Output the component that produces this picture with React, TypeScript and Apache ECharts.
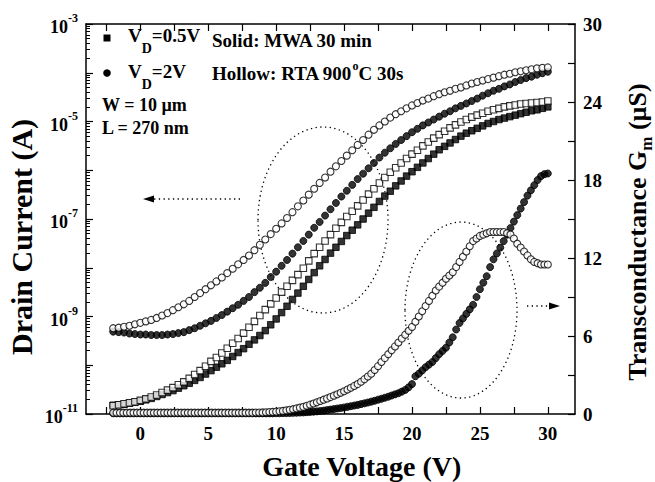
import React, { useEffect, useRef } from 'react';
import * as echarts from 'echarts';

const FONT = "'Liberation Serif', 'Times New Roman', serif";

// Gate-voltage sweep of the drain-current curves (V)
const gateVoltageId = [
  -2, -1.6, -1.2, -0.8, -0.4, 0, 0.4, 0.8, 1.2, 1.6, 2, 2.4, 2.8, 3.2, 3.6, 4, 4.4, 4.8, 5.2, 5.6,
  6, 6.4, 6.8, 7.2, 7.6, 8, 8.4, 8.8, 9.2, 9.6, 10, 10.4, 10.8, 11.2, 11.6, 12, 12.4, 12.8, 13.2, 13.6,
  14, 14.4, 14.8, 15.2, 15.6, 16, 16.4, 16.8, 17.2, 17.6, 18, 18.4, 18.8, 19.2, 19.6, 20, 20.4, 20.8, 21.2, 21.6,
  22, 22.4, 22.8, 23.2, 23.6, 24, 24.4, 24.8, 25.2, 25.6, 26, 26.4, 26.8, 27.2, 27.6, 28, 28.4, 28.8, 29.2, 29.6, 30,
];

// log10 of drain current (A)
// Solid squares: MWA 30 min, VD = 0.5 V
const log10IdMwa05 = [
  -10.82, -10.81, -10.8, -10.78, -10.76, -10.74, -10.71, -10.68, -10.64, -10.6,
  -10.56, -10.52, -10.47, -10.42, -10.37, -10.31, -10.25, -10.18, -10.11, -10.04,
  -9.97, -9.9, -9.82, -9.74, -9.66, -9.57, -9.48, -9.39, -9.29, -9.17,
  -9.05, -8.92, -8.79, -8.65, -8.52, -8.38, -8.24, -8.1, -7.96, -7.83,
  -7.7, -7.58, -7.46, -7.34, -7.23, -7.12, -7.0, -6.88, -6.76, -6.64,
  -6.53, -6.43, -6.32, -6.22, -6.12, -6.03, -5.94, -5.85, -5.76, -5.67,
  -5.58, -5.51, -5.44, -5.37, -5.3, -5.24, -5.19, -5.14, -5.09, -5.04,
  -5.0, -4.96, -4.93, -4.9, -4.87, -4.84, -4.81, -4.78, -4.76, -4.73, -4.7,
];
// Hollow squares: RTA 900C 30 s, VD = 0.5 V
const log10IdRta05 = [
  -10.83, -10.81, -10.79, -10.77, -10.75, -10.72, -10.69, -10.65, -10.61, -10.56,
  -10.51, -10.46, -10.4, -10.34, -10.27, -10.19, -10.11, -10.02, -9.92, -9.84,
  -9.75, -9.65, -9.55, -9.45, -9.34, -9.22, -9.1, -8.98, -8.86, -8.74,
  -8.62, -8.5, -8.38, -8.26, -8.14, -8.01, -7.86, -7.71, -7.58, -7.45,
  -7.32, -7.19, -7.07, -6.95, -6.84, -6.73, -6.61, -6.49, -6.38, -6.26,
  -6.15, -6.04, -5.95, -5.85, -5.76, -5.67, -5.59, -5.5, -5.42, -5.34,
  -5.27, -5.2, -5.13, -5.07, -5.01, -4.96, -4.91, -4.87, -4.83, -4.79,
  -4.76, -4.73, -4.7, -4.68, -4.66, -4.64, -4.63, -4.62, -4.61, -4.6, -4.58,
];
// Solid circles: MWA 30 min, VD = 2 V
const log10IdMwa2 = [
  -9.31, -9.32, -9.33, -9.35, -9.36, -9.37, -9.37, -9.38, -9.38, -9.38,
  -9.37, -9.36, -9.34, -9.32, -9.28, -9.24, -9.19, -9.14, -9.09, -9.03,
  -8.97, -8.9, -8.83, -8.76, -8.68, -8.6, -8.5, -8.41, -8.31, -8.19,
  -8.08, -7.96, -7.84, -7.71, -7.58, -7.45, -7.32, -7.18, -7.06, -6.93,
  -6.8, -6.67, -6.54, -6.42, -6.3, -6.18, -6.07, -5.96, -5.85, -5.74,
  -5.64, -5.55, -5.46, -5.38, -5.3, -5.22, -5.15, -5.08, -5.02, -4.96,
  -4.9, -4.84, -4.79, -4.73, -4.68, -4.63, -4.58, -4.53, -4.47, -4.42,
  -4.37, -4.33, -4.28, -4.24, -4.19, -4.15, -4.11, -4.08, -4.04, -4.01, -3.98,
];
// Hollow circles: RTA 900C 30 s, VD = 2 V
const log10IdRta2 = [
  -9.24, -9.23, -9.21, -9.19, -9.16, -9.13, -9.1, -9.07, -9.03, -8.98,
  -8.93, -8.87, -8.81, -8.75, -8.68, -8.6, -8.52, -8.44, -8.36, -8.28,
  -8.2, -8.11, -8.02, -7.93, -7.84, -7.75, -7.64, -7.53, -7.42, -7.31,
  -7.2, -7.09, -6.98, -6.86, -6.74, -6.62, -6.5, -6.38, -6.26, -6.15,
  -6.03, -5.92, -5.81, -5.7, -5.59, -5.48, -5.38, -5.27, -5.17, -5.08,
  -5.0, -4.92, -4.85, -4.79, -4.73, -4.67, -4.62, -4.57, -4.53, -4.48,
  -4.44, -4.4, -4.37, -4.33, -4.3, -4.26, -4.22, -4.19, -4.16, -4.13,
  -4.1, -4.07, -4.04, -4.02, -3.99, -3.97, -3.95, -3.93, -3.91, -3.9, -3.89,
];

// Gate-voltage sweep of the transconductance curves (V)
const gateVoltageGm = [
  -2, -1.75, -1.5, -1.25, -1, -0.75, -0.5, -0.25, 0, 0.25, 0.5, 0.75, 1, 1.25, 1.5, 1.75,
  2, 2.25, 2.5, 2.75, 3, 3.25, 3.5, 3.75, 4, 4.25, 4.5, 4.75, 5, 5.25, 5.5, 5.75,
  6, 6.25, 6.5, 6.75, 7, 7.25, 7.5, 7.75, 8, 8.25, 8.5, 8.75, 9, 9.25, 9.5, 9.75,
  10, 10.25, 10.5, 10.75, 11, 11.25, 11.5, 11.75, 12, 12.25, 12.5, 12.75, 13, 13.25, 13.5, 13.75,
  14, 14.25, 14.5, 14.75, 15, 15.25, 15.5, 15.75, 16, 16.25, 16.5, 16.75, 17, 17.25, 17.5, 17.75,
  18, 18.25, 18.5, 18.75, 19, 19.25, 19.5, 19.75, 20, 20.25, 20.5, 20.75, 21, 21.25, 21.5, 21.75,
  22, 22.25, 22.5, 22.75, 23, 23.25, 23.5, 23.75, 24, 24.25, 24.5, 24.75, 25, 25.25, 25.5, 25.75,
  26, 26.25, 26.5, 26.75, 27, 27.25, 27.5, 27.75, 28, 28.25, 28.5, 28.75, 29, 29.25, 29.5, 29.75, 30,
];
// Transconductance (uS), MWA (solid circles)
const gmMwa = [
  0.05, 0.05, 0.05, 0.05, 0.05, 0.05, 0.05, 0.05, 0.05, 0.05, 0.05, 0.05, 0.05, 0.05, 0.05, 0.05,
  0.05, 0.05, 0.05, 0.05, 0.05, 0.05, 0.05, 0.05, 0.05, 0.05, 0.05, 0.05, 0.05, 0.05, 0.05, 0.05,
  0.05, 0.05, 0.05, 0.05, 0.05, 0.05, 0.05, 0.05, 0.05, 0.05, 0.05, 0.05, 0.05, 0.05, 0.05, 0.05,
  0.06, 0.06, 0.07, 0.07, 0.08, 0.09, 0.1, 0.11, 0.12, 0.14, 0.16, 0.18, 0.2, 0.23, 0.26, 0.3,
  0.34, 0.38, 0.42, 0.46, 0.5, 0.55, 0.6, 0.65, 0.7, 0.76, 0.82, 0.88, 0.95, 1.02, 1.1, 1.17,
  1.25, 1.33, 1.42, 1.51, 1.6, 1.72, 1.85, 2.05, 2.3, 2.9, 3.1, 3.35, 3.6, 3.8, 4.0, 4.3,
  4.6, 4.85, 5.1, 5.5, 5.9, 6.5, 7.0, 7.35, 7.7, 8.05, 8.4, 9.0, 9.6, 10.1, 10.6, 11.3,
  11.9, 12.35, 12.8, 13.3, 13.8, 14.3, 14.8, 15.3, 15.8, 16.3, 16.8, 17.2, 17.6, 18.0, 18.3, 18.45, 18.5,
];
// Transconductance (uS), RTA (hollow circles)
const gmRta = [
  0.1, 0.1, 0.1, 0.1, 0.1, 0.1, 0.1, 0.1, 0.1, 0.1, 0.1, 0.1, 0.1, 0.1, 0.1, 0.1,
  0.1, 0.1, 0.1, 0.1, 0.1, 0.1, 0.1, 0.1, 0.1, 0.1, 0.1, 0.1, 0.1, 0.1, 0.1, 0.1,
  0.1, 0.1, 0.1, 0.1, 0.1, 0.1, 0.1, 0.1, 0.1, 0.1, 0.11, 0.11, 0.12, 0.13, 0.15, 0.16,
  0.18, 0.21, 0.24, 0.28, 0.32, 0.37, 0.43, 0.49, 0.55, 0.63, 0.72, 0.81, 0.9, 1.0, 1.1, 1.2,
  1.3, 1.41, 1.52, 1.63, 1.75, 1.88, 2.02, 2.16, 2.3, 2.48, 2.68, 2.88, 3.1, 3.38, 3.68, 4.0,
  4.3, 4.6, 4.9, 5.2, 5.5, 5.8, 6.1, 6.4, 6.7, 7.1, 7.5, 7.9, 8.3, 8.7, 9.1, 9.5,
  9.8, 10.1, 10.4, 10.65, 10.9, 11.3, 11.7, 12.1, 12.5, 12.9, 13.3, 13.5, 13.7, 13.8, 13.9, 14.0,
  14.0, 14.0, 14.0, 14.0, 13.9, 13.8, 13.5, 13.1, 12.8, 12.5, 12.2, 11.9, 11.7, 11.6, 11.5, 11.5, 11.5,
];

// Axis ticks and labels
const xTickValues = [-2.5, 0, 2.5, 5, 7.5, 10, 12.5, 15, 17.5, 20, 22.5, 25, 27.5, 30];
const xLabelValues = [0, 5, 10, 15, 20, 25, 30];
const leftLabelExponents = [-11, -9, -7, -5, -3];
const rightTickValues = [0, 3, 6, 9, 12, 15, 18, 21, 24, 27, 30];
const rightLabelValues = [0, 6, 12, 18, 24, 30];

const leftMinorTicks: number[] = [];
for (let n = -11; n < -3; n++) {
  for (let k = 2; k <= 9; k++) leftMinorTicks.push(n + Math.log10(k));
}

const zip = (xs: number[], ys: number[]) => xs.map((x, i) => [x, ys[i]]);

let measureCtx: CanvasRenderingContext2D | null = null;
function measure(text: string, size: number) {
  if (!measureCtx) measureCtx = document.createElement('canvas').getContext('2d');
  measureCtx!.font = `bold ${size}px ${FONT}`;
  return measureCtx!.measureText(text).width;
}

type Part = { t: string; s: number; dy?: number };
function run(parts: Part[], x0: number, y: number) {
  let x = x0;
  return parts.map((p) => {
    const el = {
      type: 'text',
      x,
      y: y + (p.dy || 0),
      z: 10,
      style: {
        text: p.t,
        fontSize: p.s,
        fontWeight: 'bold',
        fontFamily: FONT,
        fill: '#000',
        align: 'left',
        verticalAlign: 'middle',
      },
    };
    x += measure(p.t, p.s);
    return el;
  });
}
function centeredGroup(parts: Part[], cx: number, cy: number, rotation: number) {
  const w = parts.reduce((a, p) => a + measure(p.t, p.s), 0);
  return {
    type: 'group',
    x: cx,
    y: cy,
    rotation,
    children: run(parts, -w / 2, 0),
  };
}

const axisLineStyle = { color: '#000', width: 1.5 };
const tickStyle = { color: '#000', width: 1.2 };
const labelBase = { color: '#000', fontFamily: FONT, fontWeight: 'bold' as const };
const dotted = { stroke: '#000', lineWidth: 1.3, lineDash: [1.3, 3.4], fill: 'none' };

function buildOption() {
  const circleBase = { type: 'scatter', silent: true, symbol: 'circle', symbolSize: 7 };
  const squareBase = { type: 'scatter', silent: true, symbol: 'rect', symbolSize: 6.5 };
  const solid = { color: '#000', borderColor: '#000', borderWidth: 1 };
  const hollow = { color: '#fff', borderColor: '#000', borderWidth: 1.1 };
  return {
    animation: false,
    grid: { left: 86, right: 80, top: 24, bottom: 68, containLabel: false, outerBoundsMode: 'none' },
    xAxis: [
      {
        type: 'value', position: 'bottom', min: -4, max: 32,
        axisLine: { show: true, onZero: false, lineStyle: axisLineStyle },
        axisTick: { show: true, inside: true, length: 7, customValues: xTickValues, lineStyle: tickStyle },
        axisLabel: { ...labelBase, fontSize: 19, margin: 10, customValues: xLabelValues, formatter: (v: number) => String(v) },
        splitLine: { show: false },
      },
      {
        type: 'value', position: 'top', min: -4, max: 32,
        axisLine: { show: true, onZero: false, lineStyle: axisLineStyle },
        axisTick: { show: true, inside: true, length: 7, customValues: xTickValues, lineStyle: tickStyle },
        axisLabel: { show: false },
        splitLine: { show: false },
      },
    ],
    yAxis: [
      {
        type: 'value', position: 'left', min: -11, max: -3, interval: 1,
        axisLine: { show: true, onZero: false, lineStyle: axisLineStyle },
        axisTick: { show: true, inside: true, length: 7, lineStyle: tickStyle },
        axisLabel: {
          margin: 8,
          customValues: leftLabelExponents,
          formatter: (v: number) => `{b|10}{s|${v}}`,
          rich: {
            b: { ...labelBase, fontSize: 18, lineHeight: 24, verticalAlign: 'bottom' },
            s: { ...labelBase, fontSize: 12, lineHeight: 12, verticalAlign: 'top' },
          },
        },
        splitLine: { show: false },
      },
      {
        type: 'value', position: 'right', min: 0, max: 30, interval: 3,
        axisLine: { show: true, onZero: false, lineStyle: axisLineStyle },
        axisTick: { show: true, inside: true, length: 7, customValues: rightTickValues, lineStyle: tickStyle },
        axisLabel: { ...labelBase, fontSize: 19, margin: 8, customValues: rightLabelValues, formatter: (v: number) => String(v) },
        splitLine: { show: false },
      },
      {
        type: 'value', position: 'left', offset: 0, min: -11, max: -3,
        axisLine: { show: false, onZero: false },
        axisTick: { show: true, inside: true, length: 4, customValues: leftMinorTicks, lineStyle: { color: '#000', width: 1 } },
        axisLabel: { show: false },
        splitLine: { show: false },
      },
    ],
    series: [
      { ...squareBase, name: 'MWA VD=0.5V', xAxisIndex: 0, yAxisIndex: 0, itemStyle: solid, data: zip(gateVoltageId, log10IdMwa05) },
      { ...circleBase, name: 'MWA VD=2V', xAxisIndex: 0, yAxisIndex: 0, itemStyle: solid, data: zip(gateVoltageId, log10IdMwa2) },
      { ...circleBase, name: 'MWA gm', xAxisIndex: 0, yAxisIndex: 1, itemStyle: solid, data: zip(gateVoltageGm, gmMwa) },
      { ...squareBase, name: 'RTA VD=0.5V', xAxisIndex: 0, yAxisIndex: 0, itemStyle: hollow, data: zip(gateVoltageId, log10IdRta05) },
      { ...circleBase, name: 'RTA VD=2V', xAxisIndex: 0, yAxisIndex: 0, itemStyle: hollow, data: zip(gateVoltageId, log10IdRta2) },
      { ...circleBase, name: 'RTA gm', xAxisIndex: 0, yAxisIndex: 1, itemStyle: hollow, data: zip(gateVoltageGm, gmRta) },
    ],
    graphic: {
      elements: [
        // dotted ellipses and arrows
        { type: 'ellipse', z: 0, shape: { cx: 323, cy: 220, rx: 65, ry: 93 }, style: dotted },
        { type: 'ellipse', z: 0, shape: { cx: 461, cy: 310, rx: 56, ry: 88 }, style: dotted },
        { type: 'line', z: 0, shape: { x1: 240, y1: 199, x2: 152, y2: 199 }, style: dotted },
        { type: 'polygon', z: 0, shape: { points: [[143, 199], [154, 195.5], [154, 202.5]] }, style: { fill: '#000' } },
        { type: 'line', z: 0, shape: { x1: 527, y1: 306, x2: 551, y2: 306 }, style: dotted },
        { type: 'polygon', z: 0, shape: { points: [[560, 306], [549, 302.5], [549, 309.5]] }, style: { fill: '#000' } },
        // legend markers
        { type: 'rect', z: 10, shape: { x: 103.5, y: 34.5, width: 7, height: 7 }, style: { fill: '#000' } },
        { type: 'circle', z: 10, shape: { cx: 107, cy: 73, r: 3.8 }, style: { fill: '#000' } },
        ...run([{ t: 'V', s: 19 }, { t: 'D', s: 14, dy: 13 }, { t: '=0.5V', s: 19 }], 128, 35),
        ...run([{ t: 'V', s: 19 }, { t: 'D', s: 14, dy: 13 }, { t: '=2V', s: 19 }], 128, 71.5),
        ...run([{ t: 'Solid: MWA 30 min', s: 19 }], 212, 40.5),
        ...run([{ t: 'Hollow: RTA 900', s: 19 }, { t: 'o', s: 12, dy: -7 }, { t: 'C 30s', s: 19 }], 212, 73),
        ...run([{ t: 'W = 10 \u00b5m', s: 18 }], 102, 104.5),
        ...run([{ t: 'L = 270 nm', s: 18 }], 102, 127.5),
        // axis names
        centeredGroup([{ t: 'Gate Voltage (V)', s: 28 }], 362, 466, 0),
        centeredGroup([{ t: 'Drain Current (A)', s: 30 }], 21, 237, Math.PI / 2),
        centeredGroup(
          [{ t: 'Transconductance G', s: 26 }, { t: 'm', s: 17, dy: 9 }, { t: ' (\u00b5S)', s: 26 }],
          637, 232, Math.PI / 2
        ),
      ],
    },
  };
}

export default function App() {
  const ref = useRef<HTMLDivElement>(null);
  useEffect(() => {
    document.body.style.margin = '0';
    const chart = echarts.init(ref.current!, null, { renderer: 'svg' });
    chart.setOption(buildOption() as any);
    return () => chart.dispose();
  }, []);
  return <div ref={ref} style={{ width: 655, height: 482 }} />;
}
